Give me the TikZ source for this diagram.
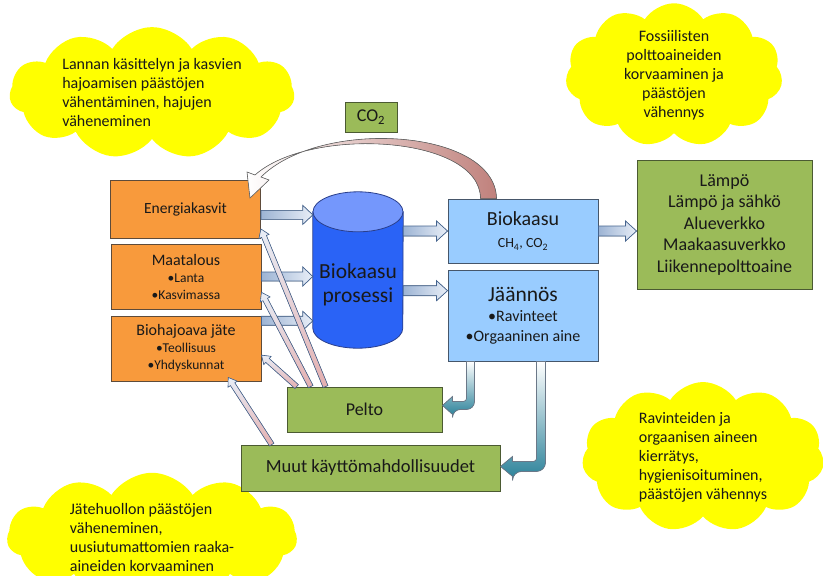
\documentclass[tikz,border=0pt]{standalone}
\usepackage{fontspec}
\setmainfont{Carlito}
\usetikzlibrary{positioning,calc,shapes.symbols}

\definecolor{orangefill}{HTML}{F89A3C}
\definecolor{orangeline}{HTML}{5E4B3A}
\definecolor{greenfill}{HTML}{9BBB59}
\definecolor{greenline}{HTML}{4B5A32}
\definecolor{bluefill}{HTML}{99CCFF}
\definecolor{blueline}{HTML}{46566A}
\definecolor{cylbody}{HTML}{2A63F6}
\definecolor{cyltop}{HTML}{7497FC}
\definecolor{cylline}{HTML}{2A3F8C}
\definecolor{arrowline}{HTML}{45648F}
\definecolor{arrowdark}{HTML}{9DB4D4}
\definecolor{arrowlight}{HTML}{E8EEF7}
\definecolor{pinkish}{HTML}{E4AFAF}
\definecolor{tealish}{HTML}{31859C}
\definecolor{co2brown}{HTML}{C0817C}
\definecolor{cloudyellow}{HTML}{FFFF00}

\newcommand\fsz[2]{\fontsize{#1}{#2}\selectfont}

% block arrow: from #2 to #3, shaft half width #4, head half width #5, head length #6
\newcommand\fatarrow[6][]{%
  \filldraw[#1] let \p1=#2, \p2=#3,
    \n1={atan2(\y2-\y1,\x2-\x1)}, \n2={veclen(\x2-\x1,\y2-\y1)} in
    [shift={(\p1)}, rotate=\n1]
    (0pt,-#4) -- ({\n2*1pt-#6},-#4) -- ({\n2*1pt-#6},-#5) -- ({\n2*1pt},0pt)
    -- ({\n2*1pt-#6},#5) -- ({\n2*1pt-#6},#4) -- (0pt,#4) -- cycle;}

\begin{document}
\begin{tikzpicture}[x=1pt, y=1pt,
    box/.style={draw, line width=0.9pt, align=center, inner sep=1pt, text=black!90},
    source/.style={box, fill=orangefill, draw=orangeline, minimum width=150pt},
    product/.style={box, fill=bluefill, draw=blueline, minimum width=150pt},
    usage/.style={box, fill=greenfill, draw=greenline},
    cloudnote/.style={cloud, cloud puffs=11, cloud puff arc=115, cloud ignores aspect,
        fill=cloudyellow, inner sep=0pt, font=\fsz{16}{19}, text=black!90},
    fatarrow/.style={draw=arrowline, line width=0.7pt, left color=arrowdark, right color=arrowlight},
    thinarrow/.style={draw=arrowline, line width=0.6pt, top color=arrowlight, bottom color=pinkish},
    bentarrow/.style={draw=blueline!80, line width=0.7pt, top color=white, bottom color=tealish}
]
\useasboundingbox (0,0) rectangle (823,-576);

% notes
\node[cloudnote, minimum width=285pt, minimum height=120pt, align=left] (ncloud) at (152,-93)
    {Lannan käsittelyn ja kasvien\\hajoamisen päästöjen\\vähentäminen, hajujen\\väheneminen};
\node[cloudnote, minimum width=217pt, minimum height=134pt, align=center] (fcloud) at (674,-75)
    {Fossiilisten\\polttoaineiden\\korvaaminen ja\\päästöjen\\vähennys};
\node[cloudnote, minimum width=242pt, minimum height=127pt, align=left] (rcloud) at (703,-457)
    {Ravinteiden ja\\orgaanisen aineen\\kierrätys,\\hygienisoituminen,\\päästöjen vähennys};
\node[cloudnote, minimum width=290pt, minimum height=105pt, align=left] (wcloud) at (152,-537)
    {Jätehuollon päästöjen\\väheneminen,\\uusiutumattomien raaka-\\aineiden korvaaminen};

% raw materials
\node[source, minimum height=58pt, font=\fsz{15.5}{18}] (energia) at (185.5,-209) {Energiakasvit};
\node[source, minimum height=65pt, font=\fsz{13.5}{17}] (maatalous) at (186,-276.5)
    {{\fsz{16}{17}Maatalous}\\•Lanta\\•Kasvimassa};
\node[source, minimum height=65pt, font=\fsz{13.5}{17}] (bio) at (186,-348.5)
    {{\fsz{16}{17}Biohajoava jäte}\\•Teollisuus\\•Yhdyskunnat};

% reactor
\node[minimum width=90pt, minimum height=156pt, inner sep=0pt] (cyl) at (358,-270) {};
\filldraw[fill=cylbody, draw=cylline, line width=0.8pt]
    ([yshift=-20pt]cyl.north west) -- ([yshift=20pt]cyl.south west)
    arc[start angle=180, end angle=360, x radius=45, y radius=20]
    -- ([yshift=-20pt]cyl.north east) -- cycle;
\filldraw[fill=cyltop, draw=cylline, line width=0.8pt]
    ([yshift=-20pt]cyl.north) ellipse [x radius=45, y radius=20];
\node[font=\fsz{21.5}{24}, align=center, text=black!90] (cyltext) at (358,-285) {Biokaasu\\prosessi};

% products
\node[product, minimum height=64pt, font=\fsz{14}{22}] (biokaasu) at (523,-231)
    {{\fsz{20}{22}Biokaasu}\\CH\textsubscript{4}, CO\textsubscript{2}};
\node[product, minimum height=91pt, font=\fsz{16}{20}] (jaannos) at (523,-315.5)
    {{\fsz{21.5}{20}Jäännös}\\•Ravinteet\\•Orgaaninen aine};
\node[usage, minimum width=175pt, minimum height=129pt, font=\fsz{18}{21.5}] (kaytto) at (724.5,-224.5)
    {Lämpö\\Lämpö ja sähkö\\Alueverkko\\Maakaasuverkko\\Liikennepolttoaine};
\node[usage, minimum width=52pt, minimum height=30pt, font=\fsz{18}{20}] (co2) at (371,-117) {CO\textsubscript{2}};
\node[usage, minimum width=155pt, minimum height=45pt, font=\fsz{18}{19}] (pelto) at (364.5,-409.5) {Pelto};
\node[usage, minimum width=259pt, minimum height=46pt, font=\fsz{18.5}{20}] (muut) at (370.5,-468)
    {Muut käyttömahdollisuudet};

% feeds into the reactor
\coordinate (e1) at ($(energia.north east)!0.6!(energia.south east)$);
\coordinate (b1) at ($(bio.north east)!0.08!(bio.south east)$);
\coordinate (c2) at ($(jaannos.north west)!0.23!(jaannos.south west)$);
\fatarrow[fatarrow]{(e1)}{(e1 -| cyl.west)}{4.5pt}{9.5pt}{10pt}
\fatarrow[fatarrow]{(maatalous.east)}{(maatalous.east -| cyl.west)}{4.5pt}{9.5pt}{10pt}
\fatarrow[fatarrow]{(b1)}{(b1 -| cyl.west)}{4.5pt}{9.5pt}{10pt}
\fatarrow[fatarrow]{(biokaasu.west -| cyl.east)}{(biokaasu.west)}{5pt}{10pt}{11pt}
\fatarrow[fatarrow]{(c2 -| cyl.east)}{(c2)}{5pt}{10pt}{11pt}
\fatarrow[fatarrow]{(biokaasu.east)}{(biokaasu.east -| kaytto.west)}{5pt}{10pt}{11pt}

% back to the field
\fatarrow[thinarrow]{($(pelto.north west)!0.065!(pelto.north east)$)}{($(bio.north east)!0.6!(bio.south east)$)}{2.6pt}{5.5pt}{8pt}
\fatarrow[thinarrow]{($(pelto.north west)!0.155!(pelto.north east)$)}{($(maatalous.north east)!0.74!(maatalous.south east)$)}{2.6pt}{5.5pt}{8pt}
\fatarrow[thinarrow]{($(pelto.north west)!0.25!(pelto.north east)$)}{($(energia.north east)!0.84!(energia.south east)$)}{2.6pt}{5.5pt}{8pt}
\fatarrow[thinarrow]{($(muut.north west)!0.12!(muut.north east)$)}{($(bio.south west)!0.78!(bio.south east)+(0,4)$)}{2.6pt}{5.5pt}{8pt}

% residue
\filldraw[bentarrow] ($(jaannos.south west)+(19,0)$) -- ++(8,0)
    [rounded corners=8pt] -- ++(0,-48) -- ++(-22,0)
    [sharp corners] -- ++(0,-5) -- ++(-10,9) -- ++(10,9) -- ++(0,-5)
    [rounded corners=3pt] -- ++(14,0) [sharp corners] -- cycle;
\filldraw[bentarrow] ($(jaannos.south west)+(89,0)$) -- ++(9,0)
    [rounded corners=9pt] -- ++(0,-110) -- ++(-33,0)
    [sharp corners] -- ++(0,-5) -- ++(-12,10) -- ++(12,10) -- ++(0,-5)
    [rounded corners=3pt] -- ++(24,0) [sharp corners] -- cycle;

% CO2 cycle
\filldraw[draw=gray!80!black, line width=0.6pt, left color=white, middle color=co2brown!25!white, right color=co2brown]
    ($(biokaasu.north west)+(33,0)$) -- ($(biokaasu.north west)+(49,0)$)
    .. controls (495,-128) and (320,-118) .. (261,-177)
    -- (269,-180) -- (250,-198) -- (247,-172) -- (255,-175)
    .. controls (310,-126) and (480,-135) .. ($(biokaasu.north west)+(33,0)$) -- cycle;
\end{tikzpicture}
\end{document}
